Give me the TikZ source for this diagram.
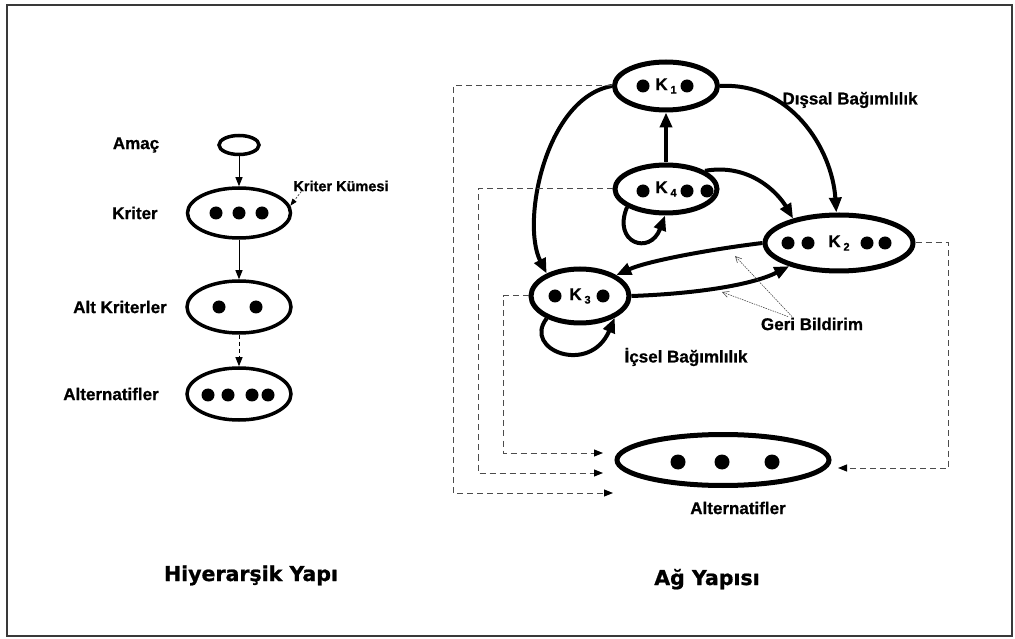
\documentclass[tikz,border=0pt]{standalone}
\usepackage{fontspec}
\setmainfont{Liberation Sans}[BoldFeatures={FakeBold=0.8}]
\newfontfamily\headfont{DejaVu Sans}[BoldFeatures={FakeBold=1}]
\usetikzlibrary{shapes.geometric,arrows.meta,calc}

\newcommand{\lbl}{\bfseries\fontsize{17}{20}\selectfont}
\newcommand{\ttl}{\headfont\bfseries\fontsize{20.5}{24}\selectfont}
\newcommand{\ksub}[1]{K\,\raisebox{-3.5pt}{\fontsize{11}{11}\selectfont #1}}

\tikzset{
  hell/.style={ellipse, draw, line width=3.5pt, inner sep=0pt},
  nell/.style={ellipse, draw, line width=5pt, inner sep=0pt, font=\lbl},
  thinarrow/.style={line width=1pt, -{Triangle[length=9pt,width=7pt]}},
  thickarrow/.style={line width=4pt, -{Triangle[length=15pt,width=12pt]}},
  dlink/.style={gray!60!black, line width=1pt, dash pattern=on 6pt off 4pt,
    -{Triangle[length=9pt,width=7pt,color=black]}},
  fbarrow/.style={gray!60!black, line width=0.6pt, dash pattern=on 1.5pt off 1pt,
    -{Straight Barb[length=6pt,width=6pt]}},
  lab/.style={font=\lbl, inner sep=0pt},
  title/.style={font=\ttl, inner sep=0pt, anchor=base},
}

\begin{document}
\begin{tikzpicture}[x=1pt,y=1pt]
\useasboundingbox (0,0) rectangle (1015,638);
% outer frame
\draw[gray!45!black, line width=2pt] (7,2) rectangle (1012,633);

% ---------- hierarchical structure ----------
\node[hell, minimum width=40pt, minimum height=19pt] (amac) at (239,493) {};
\node[hell, minimum width=103pt, minimum height=50pt] (krit) at (239,425) {};
\node[hell, minimum width=104pt, minimum height=52pt] (altk) at (239,331) {};
\node[hell, minimum width=104pt, minimum height=52pt] (alth) at (239,244) {};

\foreach \dx in {-23,0,23} \fill ($(krit)+(\dx,0)$) circle (6.5pt);
\foreach \dx in {-20,17} \fill ($(altk)+(\dx,0)$) circle (6.5pt);
\foreach \dx in {-31,-11,13,29} \fill ($(alth)+(\dx,-1)$) circle (6.5pt);

\node[lab] (lamac) at (136,493) {Amaç};
\node[lab] (lkrit) at (135,425) {Kriter};
\node[lab] (laltk) at (120,331) {Alt Kriterler};
\node[lab] (lalth) at (111,244) {Alternatifler};
\node[lab, font=\bfseries\fontsize{14.5}{17}\selectfont] (kk) at (341,452) {Kriter Kümesi};

\draw[thinarrow] (amac.south) -- (krit.north);
\draw[thinarrow] (krit.south) -- (altk.north);
\draw[thinarrow, dash pattern=on 4pt off 3pt] (altk.south) -- (alth.north);
\draw[gray!60!black, line width=0.8pt, dash pattern=on 2pt off 1.5pt,
      -{Triangle[length=7pt,width=5pt,color=black]}]
  ($(kk.south west)+(8,0)$) -- (krit.8);

\node[title] (thier) at (251,57) {Hiyerarşik Yapı};

% ---------- network structure ----------
\node[nell, minimum width=103pt, minimum height=48pt] (K1) at (666,552) {\ksub{1}};
\node[nell, minimum width=102pt, minimum height=48pt] (K4) at (666,449) {\ksub{4}};
\node[nell, minimum width=148pt, minimum height=56pt] (K2) at (839,395) {\ksub{2}};
\node[nell, minimum width=98pt, minimum height=54pt] (K3) at (580,342) {\ksub{3}};
\node[nell, minimum width=212pt, minimum height=51pt] (AR) at (723,178) {};

\foreach \dx in {-23,21} \fill ($(K1)+(\dx,0)$) circle (6.5pt);
\foreach \dx in {-23,21,41} \fill ($(K4)+(\dx,-2)$) circle (6.5pt);
\foreach \dx in {-51,-31,28,46} \fill ($(K2)+(\dx,0)$) circle (6.5pt);
\foreach \dx in {-25,23} \fill ($(K3)+(\dx,0)$) circle (6.5pt);
\foreach \dx in {-45,-1,49} \fill ($(AR)+(\dx,-2)$) circle (7.5pt);

\node[lab] (lar) at (738,130) {Alternatifler};
\node[lab] (ldis) at (850,538) {Dışsal Bağımlılık};
\node[lab] (lic) at (686,281) {İçsel Bağımlılık};
\node[lab] (lgb) at (812,314) {Geri Bildirim};
\node[title] (tnet) at (707,53) {Ağ Yapısı};

% dependencies between clusters
\draw[thickarrow] (K4.north) -- (K1.south);
\draw[thickarrow] (K1.west) .. controls (545,540) and (521,415) .. (K3.146);
\draw[thickarrow] (K1.east) .. controls (790,556) and (832,490) .. (K2.95);
\draw[thickarrow] (K4.25) .. controls (750,475) and (778,445) .. (K2.152);
\draw[thickarrow] (K2.west) .. controls (720,390) and (650,378) .. (K3.30);
\draw[thickarrow] (K3.east) .. controls (690,344) and (750,352) .. (K2.205);
% inner dependencies (loops)
\draw[thickarrow] (K4.205) .. controls (612,395) and (650,382) .. (K4.268);
\draw[thickarrow] (K3.214) .. controls (522,288) and (590,262) .. (K3.328);

% feedback pointers
\coordinate (gb1) at (735,382);
\coordinate (gb2) at (722,346);
\draw[fbarrow] ($(lgb.north)+(-20,1)$) -- (gb1);
\draw[fbarrow] ($(lgb.north)+(-24,1)$) -- (gb2);

% links to the alternatives
\coordinate (ta) at (613,145);
\coordinate (tb) at (603,165);
\coordinate (tc) at (603,185);
\coordinate (td) at (838,170);
\draw[dlink] (K1.west) -| ($(ta)+(-160,0)$) -- (ta);
\draw[dlink] (K4.west) -| ($(tb)+(-125,0)$) -- (tb);
\draw[dlink] (K3.west) -| ($(tc)+(-100,0)$) -- (tc);
\draw[dlink] (K2.east) -| ($(td)+(110,0)$) -- (td);
\end{tikzpicture}
\end{document}
